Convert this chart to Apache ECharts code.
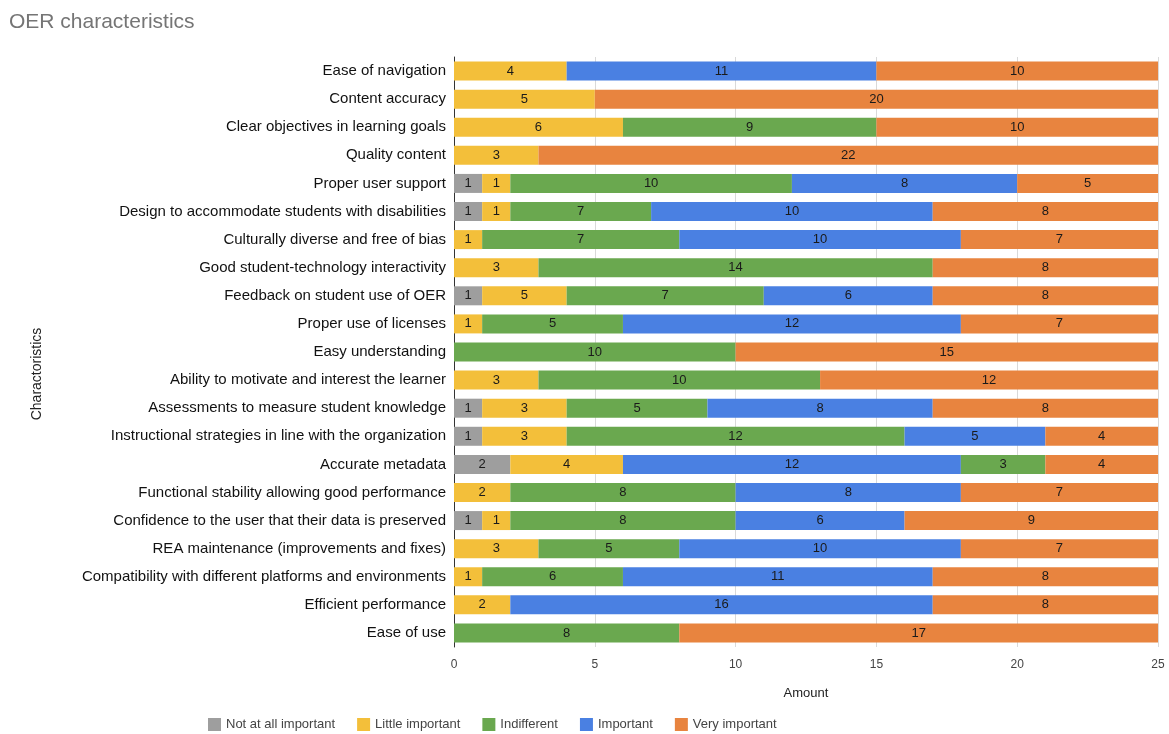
<!DOCTYPE html>
<html>
<head>
<meta charset="utf-8">
<script src="https://cdn.jsdelivr.net/npm/echarts@6/dist/echarts.min.js"></script>
<style>
  html, body { margin: 0; padding: 0; background: #fff; }
  #main { width: 1169px; height: 734px; }
</style>
</head>
<body>
<div id="main"></div>
<script>
// categories, top to bottom
const categories = [
  'Ease of navigation',
  'Content accuracy',
  'Clear objectives in learning goals',
  'Quality content',
  'Proper user support',
  'Design to accommodate students with disabilities',
  'Culturally diverse and free of bias',
  'Good student-technology interactivity',
  'Feedback on student use of OER',
  'Proper use of licenses',
  'Easy understanding',
  'Ability to motivate and interest the learner',
  'Assessments to measure student knowledge',
  'Instructional strategies in line with the organization',
  'Accurate metadata',
  'Functional stability allowing good performance',
  'Confidence to the user that their data is preserved',
  'REA maintenance (improvements and fixes)',
  'Compatibility with different platforms and environments',
  'Efficient performance',
  'Ease of use'
];

// bar lengths as drawn
const notAtAll   = [0, 0, 0, 0, 1, 1, 0, 0, 1, 0, 0, 0, 1, 1, 2, 0, 1, 0, 0, 0, 0];
const little     = [4, 5, 6, 3, 1, 1, 1, 3, 3, 1, 0, 3, 3, 3, 4, 2, 1, 3, 1, 2, 0];
const indifferent= [0, 0, 9, 0,10, 5, 7,14, 7, 5,10,10, 5,12, 0, 8, 8, 5, 5, 0, 8];
const important  = [11,0, 0, 0, 8,10,10, 0, 6,12, 0, 0, 8, 5,12, 8, 6,10,11,15, 0];
// "Accurate metadata" has its green piece after the blue one
const indifferentAfter = [0,0,0,0,0,0,0,0,0,0,0,0,0,0,3,0,0,0,0,0,0];
const veryImportant = [10,20,10,22,5, 8, 7, 8, 8, 7,15,12, 8, 4, 4, 7, 9, 7, 8, 8,17];

// label texts printed in the chart where they differ from the bar length
const labelOverrides = {
  'little': { 8: '5' },
  'indifferent': { 5: '7', 18: '6' },
  'important': { 19: '16' }
};

const colors = {
  grey: '#9e9e9e',
  yellow: '#f3bf3a',
  green: '#6aa84f',
  blue: '#4a80e2',
  orange: '#e8843f'
};

const font = 'Liberation Sans, Arial, sans-serif';

function makeSeries(key, name, data, color) {
  return {
    name: name,
    type: 'bar',
    stack: 'total',
    data: data,
    barWidth: 19,
    itemStyle: { color: color },
    label: {
      show: true,
      position: 'inside',
      color: '#1a1a1a',
      fontSize: 13,
      fontFamily: font,
      formatter: function (p) {
        if (!p.value) return '';
        const o = labelOverrides[key];
        if (o && o[p.dataIndex] !== undefined) return o[p.dataIndex];
        return String(p.value);
      }
    },
    emphasis: { disabled: true }
  };
}

const chart = echarts.init(document.getElementById('main'));
chart.setOption({
  animation: false,
  textStyle: { fontFamily: font },
  title: {
    text: 'OER characteristics',
    left: 4,
    top: 7,
    textStyle: { fontSize: 21, fontWeight: 'normal', color: '#757575', fontFamily: font }
  },
  legend: {
    data: ['Not at all important', 'Little important', 'Indifferent', 'Important', 'Very important'],
    top: 713,
    left: 203,
    itemWidth: 13,
    itemHeight: 13,
    itemGap: 22,
    icon: 'rect',
    textStyle: { fontSize: 13, color: '#444', fontFamily: font }
  },
  grid: {
    left: 454,
    right: 11,
    top: 57,
    bottom: 87
  },
  xAxis: {
    type: 'value',
    min: 0,
    max: 25,
    interval: 5,
    name: 'Amount',
    nameLocation: 'middle',
    nameGap: 40,
    nameTextStyle: { fontSize: 13, color: '#222', fontFamily: font },
    axisLine: { show: false },
    axisTick: { show: false },
    axisLabel: { fontSize: 12, color: '#444', margin: 12 },
    splitLine: { lineStyle: { color: '#d9d9d9' } }
  },
  yAxis: {
    type: 'category',
    data: categories,
    inverse: true,
    name: 'Charactoristics',
    nameLocation: 'middle',
    nameGap: 410,
    nameRotate: 90,
    nameTextStyle: { fontSize: 14, color: '#222', fontFamily: font, padding: [0, 44, 0, 0] },
    axisLine: { show: true, lineStyle: { color: '#333' } },
    axisTick: { show: false },
    axisLabel: { fontSize: 15, color: '#111', margin: 8 }
  },
  series: [
    makeSeries('notAtAll', 'Not at all important', notAtAll, colors.grey),
    makeSeries('little', 'Little important', little, colors.yellow),
    makeSeries('indifferent', 'Indifferent', indifferent, colors.green),
    makeSeries('important', 'Important', important, colors.blue),
    makeSeries('indifferentAfter', 'Indifferent', indifferentAfter, colors.green),
    makeSeries('veryImportant', 'Very important', veryImportant, colors.orange)
  ]
});
</script>
</body>
</html>
